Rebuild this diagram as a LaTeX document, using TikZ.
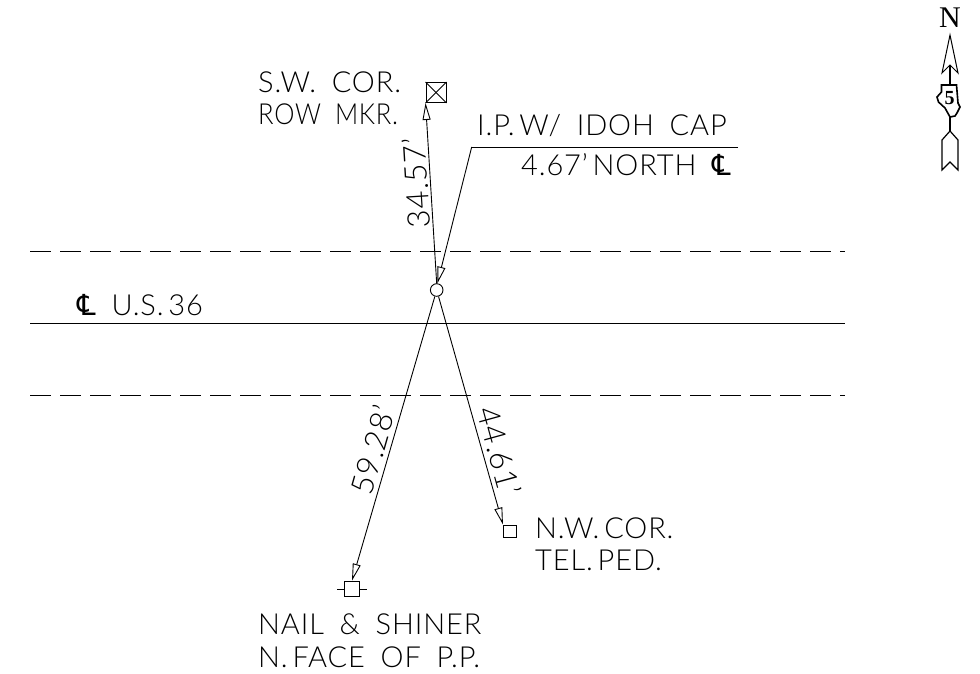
\documentclass[tikz,border=0pt]{standalone}
\usepackage{fontspec}
\setmainfont[WordSpace=1.8,LetterSpace=3]{Lato Light}
\newfontfamily\clfont{DejaVu Sans}
\newfontfamily\northfont{Liberation Serif}
\usetikzlibrary{arrows.meta}
\tikzset{
  cadtext/.style={font=\fontsize{29}{29}\selectfont, inner sep=0pt},
  dimtext/.style={font=\fontsize{31}{31}\selectfont, inner sep=0pt, anchor=base},
  cadline/.style={line width=0.9pt},
  mark box/.style={draw, line width=0.9pt, inner sep=0pt, minimum size=#1},
  leader/.style={cadline, -{Triangle[open,length=17pt,width=8pt]}, shorten >=0pt},
  edge dash/.style={cadline, dash pattern=on 21pt off 9pt}
}
\begin{document}
\begin{tikzpicture}[x=1pt, y=-1pt]
\useasboundingbox (0,0) rectangle (980,673);

% road lines
\coordinate (northL) at (30,251);
\coordinate (northR) at (845,251);
\coordinate (centerL) at (30,323.5);
\coordinate (centerR) at (845,323.5);
\coordinate (southL) at (30,395);
\coordinate (southR) at (845,395);
\draw[edge dash] (northL) -- (northR);
\draw[cadline] (centerL) -- (centerR);
\draw[edge dash] (southL) -- (southR);

% points
\node (ip) [circle, mark box=12.6pt] at (436.7,290) {};
\node (row) [mark box=20pt] at (436,92.5) {};
\draw[cadline] (row.north west) -- (row.south east);
\draw[cadline] (row.north east) -- (row.south west);
\node (nail) [mark box=15.8pt] at (352,589) {};
\coordinate (nailL) at (337,589);
\coordinate (nailR) at (367.3,589);
\draw[cadline] (nailL) -- (nail.west);
\draw[cadline] (nail.east) -- (nailR);
\node (tel) [mark box=12.6pt] at (509.7,531.3) {};

% ties
\coordinate (capEnd) at (738,147);
\coordinate (capBend) at (471.7,147);
\draw[leader] (ip) ++(0,-6.4) -- (row.south west);
\draw[cadline] (capEnd) -- (capBend);
\draw[leader] (capBend) -- (437.3,283.6);
\draw[leader] (ip) -- (nail.north west -| nail.north);
\draw[leader] (ip) -- (tel.north west);

% labels
\node (rowA) [cadtext, anchor=base west] at (258,92) {S.W. COR.};
\node (rowB) [cadtext, anchor=base west] at (258,124) {\scalebox{0.88}[1]{ROW MKR.}};
\node (capA) [cadtext, anchor=base west] at (477,135) {I.P.\,W/ IDOH CAP};
\node (capB) [cadtext, anchor=base west] at (521,175) {4.67'\,NORTH {\clfont ℄}};
\node (road) [cadtext, anchor=base west] at (77,315) {{\clfont ℄} U.S.\,36};
\node (telA) [cadtext, anchor=base west] at (535,538) {N.W.\,COR.};
\node (telB) [cadtext, anchor=base west] at (535,570) {TEL.\,PED.};
\node (nailA) [cadtext, anchor=base west] at (258,634) {NAIL \& SHINER};
\node (nailB) [cadtext, anchor=base west] at (258,667) {N.\,FACE OF P.P.};
\node (dimA) [dimtext, rotate=93.5] at (428,182) {34.57'};
\node (dimB) [dimtext, rotate=74] at (384,453) {59.28'};
\node (dimC) [dimtext, rotate=-74.6] at (488,454) {44.61'};

% north arrow
\node (north) [font=\northfont\fontsize{30}{30}\selectfont, inner sep=0pt] at (950,18) {N};
\draw[line width=1pt] (950,35) -- (942,73) -- (950,65) -- (958,73) -- cycle;
\draw[line width=1.4pt] (950,65) -- (950,86);
\draw[line width=1.6pt, fill=white] (941.5,85) -- (956.5,85) -- (958,103) -- (960,107) -- (957,113) -- (955,116) -- (950,117) -- (945,108) -- (938.5,102) -- (937,97) -- (941.5,92) -- cycle;
\node (five) [font=\northfont\bfseries\fontsize{20}{20}\selectfont, inner sep=0pt] at (949.5,98) {5};
\draw[line width=1.4pt] (950,117) -- (950,131);
\draw[line width=1.2pt] (950,131) -- (942,140) -- (942,170) -- (950,162) -- (958,170) -- (958,140) -- cycle;
\end{tikzpicture}
\end{document}
